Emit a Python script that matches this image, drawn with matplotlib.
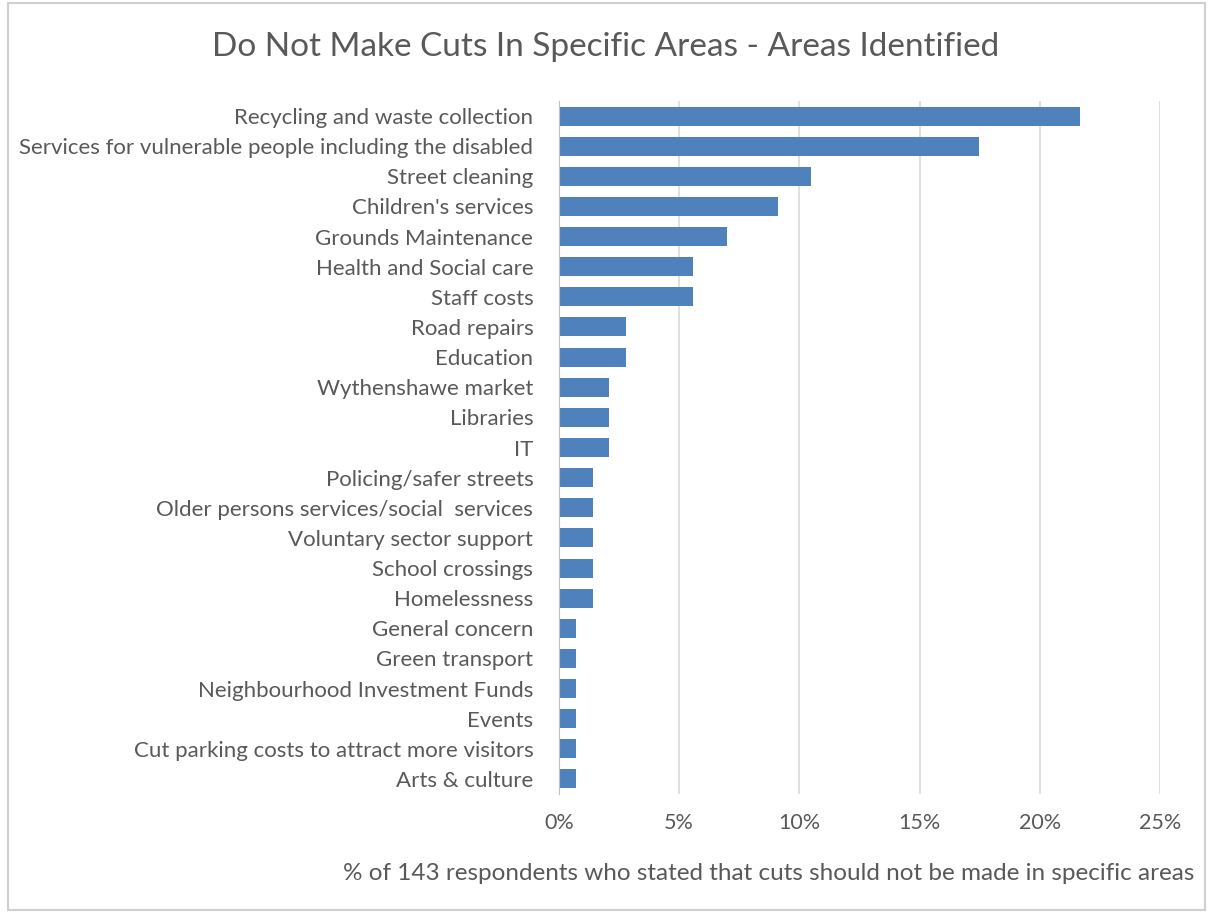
import numpy as np
import matplotlib.pyplot as plt
from matplotlib.patches import Rectangle

areas = [
    "Recycling and waste collection",
    "Services for vulnerable people including the disabled",
    "Street cleaning",
    "Children's services",
    "Grounds Maintenance",
    "Health and Social care",
    "Staff costs",
    "Road repairs",
    "Education",
    "Wythenshawe market",
    "Libraries",
    "IT",
    "Policing/safer streets",
    "Older persons services/social  services",
    "Voluntary sector support",
    "School crossings",
    "Homelessness",
    "General concern",
    "Green transport",
    "Neighbourhood Investment Funds",
    "Events",
    "Cut parking costs to attract more visitors",
    "Arts & culture",
]
# number of respondents naming each area (out of 143)
respondents = [31, 25, 15, 13, 10, 8, 8, 4, 4, 3, 3, 3, 2, 2, 2, 2, 2, 1, 1, 1, 1, 1, 1]
total = 143
pct = [100.0 * n / total for n in respondents]

xticks = [0, 5, 10, 15, 20, 25]

text_col = "#595959"
bar_col = "#4F81BD"
font = "Lato"

fig = plt.figure(figsize=(12.12, 9.13), dpi=100)
ax = fig.add_axes([0.4612, 0.1303, 0.4959, 0.7591])

y = np.arange(len(areas))
ax.barh(y, pct, height=0.63, color=bar_col, zorder=3)
ax.set_ylim(len(areas) - 0.5, -0.5)
ax.set_xlim(0, 25)

ax.set_yticks(y)
ax.set_yticklabels(areas, fontsize=16, color=text_col, family=font)
ax.set_xticks(xticks)
ax.set_xticklabels([f"{t}%" for t in xticks], fontsize=15.5, color=text_col, family=font)
ax.tick_params(axis="y", length=0, pad=18.5)
ax.tick_params(axis="x", length=0, pad=14)

ax.grid(axis="x", color="#D9D9D9", linewidth=1.2, zorder=0)
for s in ["top", "right", "bottom"]:
    ax.spines[s].set_visible(False)
ax.spines["left"].set_color("#BFBFBF")
ax.spines["left"].set_zorder(4)

fig.text(0.5, 1 - 47 / 913, "Do Not Make Cuts In Specific Areas - Areas Identified",
         ha="center", va="center", fontsize=24, color=text_col, family=font)
fig.text(769 / 1212, 1 - 873 / 913,
         "% of 143 respondents who stated that cuts should not be made in specific areas",
         ha="center", va="center", fontsize=17.5, color=text_col, family=font)

# chart border
fig.patches.append(Rectangle((8 / 1212, 3 / 913), 1197 / 1212, 907 / 913,
                             transform=fig.transFigure, fill=False,
                             edgecolor="#D0D0D0", linewidth=1.5))

fig.savefig("out.png", dpi=100, facecolor="white")
